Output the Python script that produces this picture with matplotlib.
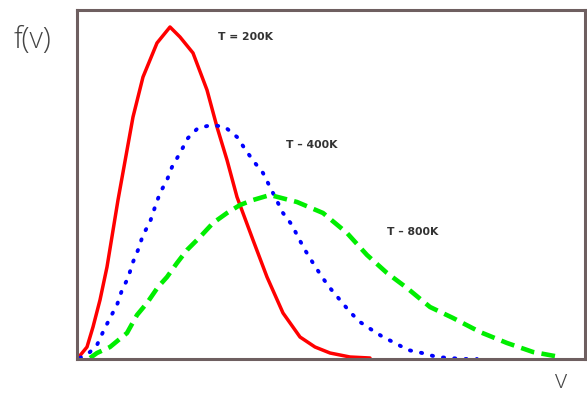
import matplotlib
matplotlib.use('Agg')
import matplotlib.pyplot as plt

# Curves (x = speed in px units, y = f(v) height in px units)
v_200 = [78, 87, 93, 100, 107, 118, 133, 143, 157, 170, 180, 193, 207, 217, 227,
         237, 253, 267, 283, 300, 315, 330, 350, 370]
f_200 = [1, 12, 32, 59, 92, 159, 242, 282, 316, 332, 322, 306, 269, 232, 199,
         162, 119, 82, 46, 22, 12, 6, 2, 1]

v_400 = [80, 90, 97, 103, 110, 117, 122, 128, 133, 138, 143, 150, 155, 160, 167,
         172, 180, 188, 198, 212, 225, 237, 247, 255, 263, 270, 283, 292, 298, 305,
         313, 322, 330, 340, 350, 360, 372, 383, 395, 408, 422, 437, 450, 463, 477]
f_400 = [1, 7, 14, 27, 41, 54, 69, 81, 97, 109, 124, 137, 152, 166, 179,
         192, 206, 221, 231, 234, 232, 222, 207, 196, 186, 172, 146, 134, 122, 109,
         96, 82, 71, 59, 47, 37, 29, 22, 16, 9, 6, 2, 1, 0, 0]

v_800 = [90, 97, 110, 127, 137, 147, 158, 167, 177, 187, 200, 213, 227, 240, 253,
         270, 297, 323, 347, 367, 387, 407, 430, 453, 480, 507, 533, 560]
f_800 = [1, 6, 12, 26, 44, 56, 72, 82, 96, 109, 122, 136, 146, 154, 159,
         164, 157, 146, 126, 104, 86, 71, 52, 41, 27, 16, 7, 2]

labels = ['T = 200K', 'T \u2013 400K', 'T \u2013 800K']
label_pos = [(246, 322), (312, 214), (413, 127)]

fig = plt.figure(figsize=(5.87, 3.96), dpi=100)
ax = fig.add_axes([77 / 587, 37 / 396, 508 / 587, 349 / 396])

ax.plot(v_200, f_200, color='#ff0000', linewidth=2.5, solid_capstyle='round',
        solid_joinstyle='round')
ax.plot(v_400, f_400, color='#0000ff', linewidth=2.8, linestyle=(0, (0.3, 2.6)),
        dash_capstyle='round')
ax.plot(v_800, f_800, color='#00ee00', linewidth=3.3, linestyle=(0, (3.0, 1.6)))

for text, (x, y) in zip(labels, label_pos):
    ax.text(x, y, text, ha='center', va='center', fontsize=7.8,
            fontweight='bold', color='#333333')

ax.set_xlim(77, 585)
ax.set_ylim(0, 349)
ax.set_xticks([])
ax.set_yticks([])
for side in ax.spines.values():
    side.set_color('#6e5f60')
    side.set_linewidth(2.2)

fig.text(32 / 587, 1 - 40 / 396, 'f(v)', ha='center', va='center',
         fontsize=21, color='#444444', family='Open Sans', fontweight='light')
fig.text(561 / 587, 1 - 381 / 396, 'v', ha='center', va='center',
         fontsize=19, color='#444444', family='Open Sans', fontweight='light')

fig.savefig('out.png', dpi=100)
